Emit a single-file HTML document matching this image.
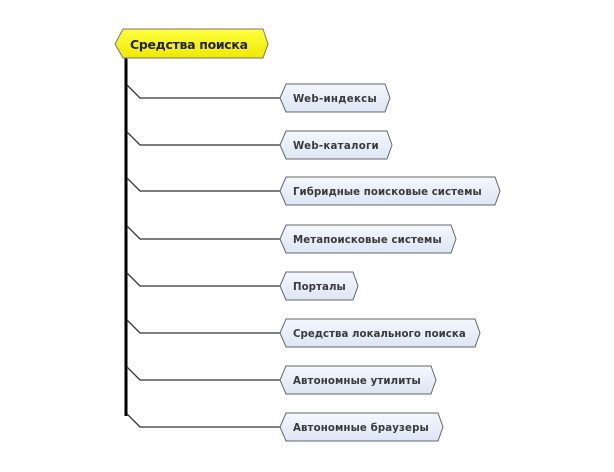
<!DOCTYPE html>
<html><head><meta charset="utf-8"><style>
html,body{margin:0;padding:0;background:#fff;}
svg{display:block;}
text{font-family:"DejaVu Sans","Liberation Sans",sans-serif;font-weight:bold;}
</style></head><body>
<svg width="614" height="472" viewBox="0 0 614 472" xmlns="http://www.w3.org/2000/svg">
<defs>
<linearGradient id="gb" x1="0" y1="0" x2="0" y2="1"><stop offset="0" stop-color="#f4f7fd"/><stop offset="1" stop-color="#dde6f5"/></linearGradient>
<linearGradient id="gy" x1="0" y1="0" x2="0" y2="1"><stop offset="0" stop-color="#ffff40"/><stop offset="1" stop-color="#f0e800"/></linearGradient>
</defs>
<line x1="126" y1="58" x2="126" y2="416" stroke="#000" stroke-width="3"/>
<g stroke="#333" stroke-width="1.3" fill="none">
<polyline points="127,85 140,98 282,98"/>
<polyline points="127,132 140,145 282,145"/>
<polyline points="127,178 140,191 282,191"/>
<polyline points="127,226 140,239 282,239"/>
<polyline points="127,273 140,286 282,286"/>
<polyline points="127,320 140,333 282,333"/>
<polyline points="127,367 140,380 282,380"/>
<polyline points="127,414 140,427 282,427"/>
</g>
<polygon points="115,44 123,29 263,29 268,44 263,58 123,58" fill="url(#gy)" stroke="#777" stroke-width="1"/>
<text x="130" y="49" font-size="12.5" fill="#222" textLength="118">Средства поиска</text>
<g stroke="#666" stroke-width="1" fill="url(#gb)">
<polygon points="280,98 286,84 385,84 390,98 385,112 286,112"/>
<polygon points="280,145 286,131 387,131 392,145 387,159 286,159"/>
<polygon points="280,191 286,177 495,177 500,191 495,205 286,205"/>
<polygon points="280,239 286,225 451,225 456,239 451,253 286,253"/>
<polygon points="280,286 286,272 353,272 358,286 353,300 286,300"/>
<polygon points="280,333 286,319 475,319 480,333 475,347 286,347"/>
<polygon points="280,380 286,366 431,366 436,380 431,394 286,394"/>
<polygon points="280,427 286,413 438,413 443,427 438,441 286,441"/>
</g>
<g font-size="10.2" fill="#3a3a3a" letter-spacing="0.3">
<text x="293" y="102" textLength="84">Web-индексы</text>
<text x="293" y="149" textLength="86">Web-каталоги</text>
<text x="293" y="195" textLength="189">Гибридные поисковые системы</text>
<text x="293" y="243" textLength="149">Метапоисковые системы</text>
<text x="293" y="290" textLength="53">Порталы</text>
<text x="293" y="337" textLength="173">Средства локального поиска</text>
<text x="293" y="384" textLength="128">Автономные утилиты</text>
<text x="293" y="431" textLength="136">Автономные браузеры</text>
</g>
</svg>
</body></html>
